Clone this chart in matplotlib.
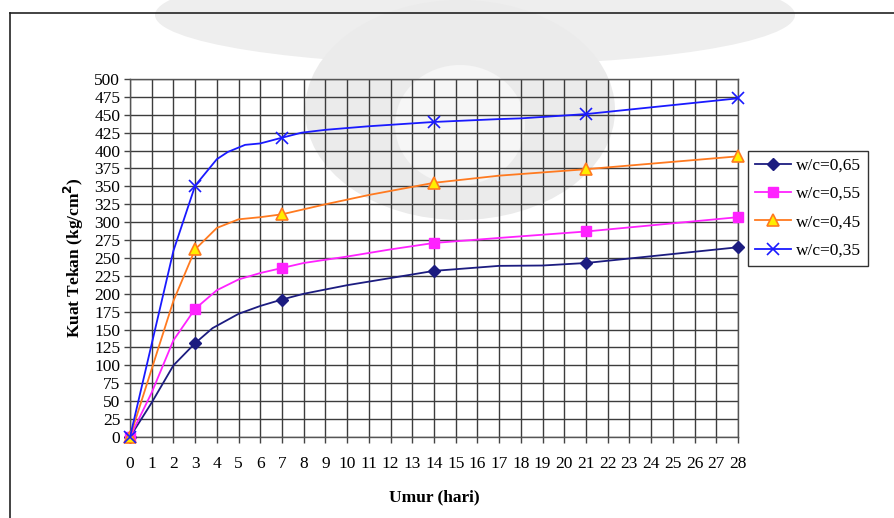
import matplotlib
matplotlib.use("Agg")
import matplotlib.pyplot as plt
from matplotlib.lines import Line2D
from matplotlib.patches import Ellipse

plt.rcParams['font.family'] = ['Liberation Serif', 'DejaVu Serif']

# Test ages (days) where specimens were crushed
test_days = [0, 3, 7, 14, 21, 28]

# Strength readings along each curve (day, kg/cm2); markers sit on test days
days_065 = [0, 1, 2, 3, 3.8, 5, 6, 7, 8, 10, 12, 14, 17, 19, 21, 28]
vals_065 = [0, 48, 100, 131, 152, 172, 183, 192, 200, 212, 222, 232, 239, 239.5, 243, 265]

days_055 = [0, 1, 2, 3, 4, 5, 6, 7, 8, 10, 12, 14, 17, 21, 28]
vals_055 = [0, 62, 135, 179, 205, 220, 229, 236, 243, 252, 262, 271, 278, 287, 307]

days_045 = [0, 1, 2, 3, 4, 5, 6, 7, 9, 11, 14, 17, 21, 28]
vals_045 = [0, 95, 190, 262, 292, 304, 307, 311, 325, 338, 355, 365, 374, 392]

days_035 = [0, 1, 2, 3, 4, 4.5, 5.3, 6, 7, 7.9, 9, 11, 14, 17, 18, 21, 28]
vals_035 = [0, 130, 260, 351, 388, 398, 408, 410, 418, 425, 429, 434, 440, 444, 445, 451, 473]

labels = ["w/c=0,65", "w/c=0,55", "w/c=0,45", "w/c=0,35"]

x_ticks = list(range(0, 29))
y_ticks = list(range(0, 501, 25))

W, H = 894, 518
fig = plt.figure(figsize=(W / 100, H / 100), dpi=100)

# faint page watermark behind the chart
wm = [(475, 15, 640, 100, '#eeeeee'),
      (460, 110, 310, 220, '#ebebeb'),
      (460, 125, 130, 120, '#f6f6f6')]
for (cx, cy, ew, eh, col) in wm:
    fig.add_artist(Ellipse((cx / W, 1 - cy / H), ew / W, eh / H,
                           facecolor=col, edgecolor='none', zorder=-5))

ax = fig.add_axes([0.1454, 0.1564, 0.6801, 0.6911])
ax.set_facecolor('none')

# outer frame (top and left edges of the page box)
fig.add_artist(Line2D([0.0117, 0.0117], [0.0, 0.975], color='#222222', lw=1.2))
fig.add_artist(Line2D([0.0117, 1.0], [0.975, 0.975], color='#222222', lw=1.2))


def mark_idx(days):
    return [days.index(d) for d in test_days]


series = [
    (days_065, vals_065, dict(color='#1c1c80', marker='D', ms=6, mfc='#1c1c80', mec='#1c1c80')),
    (days_055, vals_055, dict(color='#ff22ff', marker='s', ms=7, mfc='#ff22ff', mec='#ff22ff')),
    (days_045, vals_045, dict(color='#ff7a20', marker='^', ms=8, mfc='#ffee00', mec='#ff7a20', mew=1.2)),
    (days_035, vals_035, dict(color='#1a1aff', marker='x', ms=8, mfc='#1a1aff', mec='#1a1aff', mew=1.2)),
]

for (d, v, style), lab in zip(series, labels):
    ax.plot(d, v, lw=1.3, markevery=mark_idx(d), label=lab, zorder=3, clip_on=False, **style)

ax.set_xlim(0, 28)
ax.set_ylim(0, 500)
ax.set_xticks(x_ticks)
ax.set_yticks(y_ticks)
ax.set_xticklabels([str(t) for t in x_ticks], fontsize=12.5)
ax.set_yticklabels([str(t) for t in y_ticks], fontsize=12.5)
ax.tick_params(axis='both', direction='out', length=4, width=1, color='#444444', pad=3)
ax.tick_params(axis='x', pad=10)
ax.grid(True, color='#3c3c3c', lw=1.0)
ax.set_axisbelow(True)
for s in ax.spines.values():
    s.set_color('#555555')
    s.set_linewidth(1.0)

ax.set_xlabel("Umur (hari)", fontsize=12.5, fontweight='bold', labelpad=12)
ax.set_ylabel("Kuat Tekan (kg/cm$^\\mathbf{2}$)", fontsize=12.5, fontweight='bold', labelpad=6)

leg = ax.legend(loc='upper left', bbox_to_anchor=(1.016, 0.80), fontsize=12.5,
                frameon=True, fancybox=False, edgecolor='#333333', framealpha=1,
                handlelength=2.1, borderpad=0.4, labelspacing=0.7, handletextpad=0.3,
                borderaxespad=0)
leg.get_frame().set_linewidth(1.0)

fig.savefig("out.png", dpi=100)
